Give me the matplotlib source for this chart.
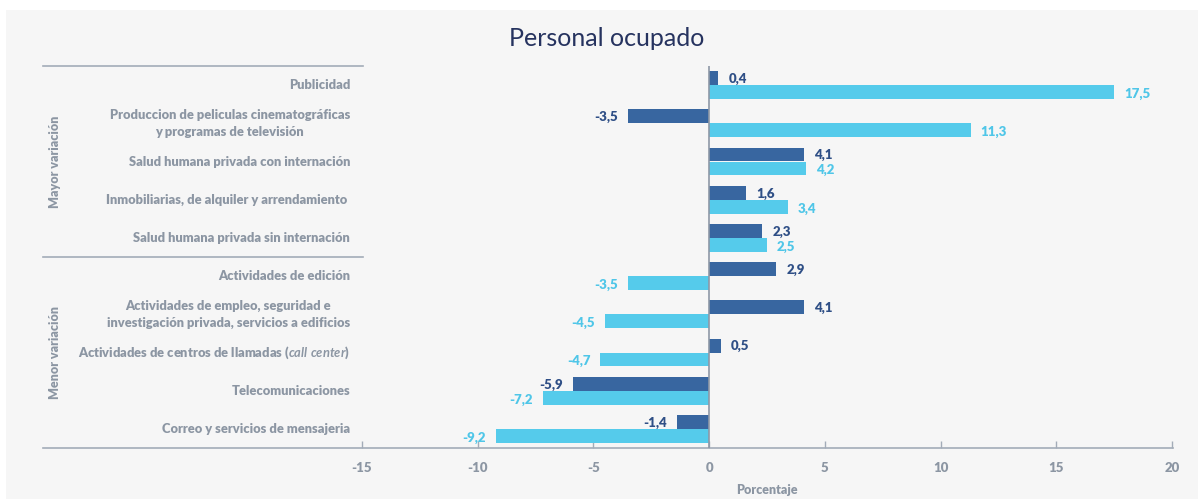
import matplotlib
matplotlib.use("Agg")
import matplotlib.pyplot as plt
from matplotlib.patches import Rectangle
from matplotlib.lines import Line2D
import numpy as np

categories = [
    "Publicidad",
    "Produccion de peliculas cinematográficas\ny programas de televisión",
    "Salud humana privada con internación",
    "Inmobiliarias, de alquiler y arrendamiento ",
    "Salud humana privada sin internación",
    "Actividades de edición",
    "Actividades de empleo, seguridad e\ninvestigación privada, servicios a edificios",
    "Actividades de centros de llamadas ($\\it{call\\ center}$)",
    "Telecomunicaciones",
    "Correo y servicios de mensajeria",
]
serie_oscura = [0.4, -3.5, 4.1, 1.6, 2.3, 2.9, 4.1, 0.5, -5.9, -1.4]
serie_clara = [17.5, 11.3, 4.2, 3.4, 2.5, -3.5, -4.5, -4.7, -7.2, -9.2]
groups = ["Mayor variación", "Menor variación"]
xticks = [-15, -10, -5, 0, 5, 10, 15, 20]

DARK = "#3866a0"
LIGHT = "#55cbeb"
DARK_TXT = "#2f4f86"
LIGHT_TXT = "#4fc6e8"
GRAY = "#8c96a3"
LINE = "#a3acb8"
BG = "#f6f6f6"

plt.rcParams['font.family'] = ['Lato', 'DejaVu Sans']
plt.rcParams['mathtext.fontset'] = 'custom'
plt.rcParams['mathtext.it'] = 'Lato:italic:bold'

W, H = 1198, 499
fig = plt.figure(figsize=(W / 100, H / 100), dpi=100)
fig.patch.set_facecolor("white")
fig.patches.append(Rectangle((6 / W, 0), 1 - 6 / W, 1 - 10 / H, transform=fig.transFigure,
                             facecolor=BG, edgecolor="none", zorder=-10))

ax_l, ax_r, ax_t, ax_b = 43, 1173, 66, 448
ax = fig.add_axes([ax_l / W, 1 - ax_b / H, (ax_r - ax_l) / W, (ax_b - ax_t) / H])
ax.set_facecolor("none")

x_per_unit = (1172 - 362) / 35.0
xmin = -15 - (362 - ax_l) / x_per_unit
xmax = 20 + (ax_r - 1172) / x_per_unit
ax.set_xlim(xmin, xmax)
ax.set_ylim(9.5, -0.5)

y = np.arange(len(categories))
bh = 0.365
ax.barh(y - bh / 2, serie_oscura, height=bh, color=DARK, zorder=3)
ax.barh(y + bh / 2, serie_clara, height=bh, color=LIGHT, zorder=3)

W_TXT = 800
off = 10 / x_per_unit
def fmt(v):
    return f"{v:.1f}".replace(".", ",")
for yi, v in zip(y, serie_oscura):
    ax.text(v + (off if v >= 0 else -off), yi - bh / 2 + 0.02, fmt(v),
            ha="left" if v >= 0 else "right", va="center", color=DARK_TXT,
            fontsize=9.5, fontweight=W_TXT, zorder=4)
for yi, v in zip(y, serie_clara):
    ax.text(v + (off if v >= 0 else -off), yi + bh / 2 + 0.05, fmt(v),
            ha="left" if v >= 0 else "right", va="center", color=LIGHT_TXT,
            fontsize=9.5, fontweight=W_TXT, zorder=4)

ax.axvline(0, color="#8e98a6", lw=1.2, zorder=5)

for s in ["top", "right", "left"]:
    ax.spines[s].set_visible(False)
ax.spines["bottom"].set_color(LINE)
ax.spines["bottom"].set_linewidth(1.2)
ax.set_yticks([])
ax.set_xticks(xticks)
ax.set_xticklabels([str(t) for t in xticks])
ax.tick_params(axis="x", direction="in", length=5, width=1, color=LINE,
               labelcolor=GRAY, labelsize=9.5, pad=10)
for lbl in ax.get_xticklabels():
    lbl.set_fontweight(W_TXT)
ax.set_xlabel("Porcentaje", color=GRAY, fontsize=9, fontweight=W_TXT)
ax.xaxis.set_label_coords(((362 + 1172) / 2 - ax_l) / (ax_r - ax_l), -(490 - ax_b) / (ax_b - ax_t))
ax.xaxis.label.set_va("center")

# category labels
lab_x = 350 / W
for yi, c in zip(y, categories):
    disp_y = ax.transData.transform((0, yi))[1]
    fy = fig.transFigure.inverted().transform((0, disp_y))[1]
    fig.text(lab_x, fy, c, ha="right", va="center", color=GRAY, fontsize=9.3,
             fontweight=W_TXT, multialignment="center", linespacing=1.45)

# separators (top and middle)
for yy in [-0.5, 4.5]:
    disp_y = ax.transData.transform((0, yy))[1]
    fy = fig.transFigure.inverted().transform((0, disp_y))[1]
    fig.lines.append(Line2D([ax_l / W, 363 / W], [fy, fy], transform=fig.transFigure,
                            color=LINE, lw=1.2))

# group labels
for g, (a, b) in zip(groups, [(-0.5, 4.5), (4.5, 9.5)]):
    disp_y = ax.transData.transform((0, (a + b) / 2))[1]
    fy = fig.transFigure.inverted().transform((0, disp_y))[1]
    fig.text(55 / W, fy, g, rotation=90, ha="center", va="center", color=GRAY,
             fontsize=9, fontweight=W_TXT)

fig.text(607 / W, 1 - 38 / H, "Personal ocupado", ha="center", va="center",
         color="#26335f", fontsize=18, fontweight="normal")

fig.savefig("out.png", dpi=100, facecolor=fig.get_facecolor())
